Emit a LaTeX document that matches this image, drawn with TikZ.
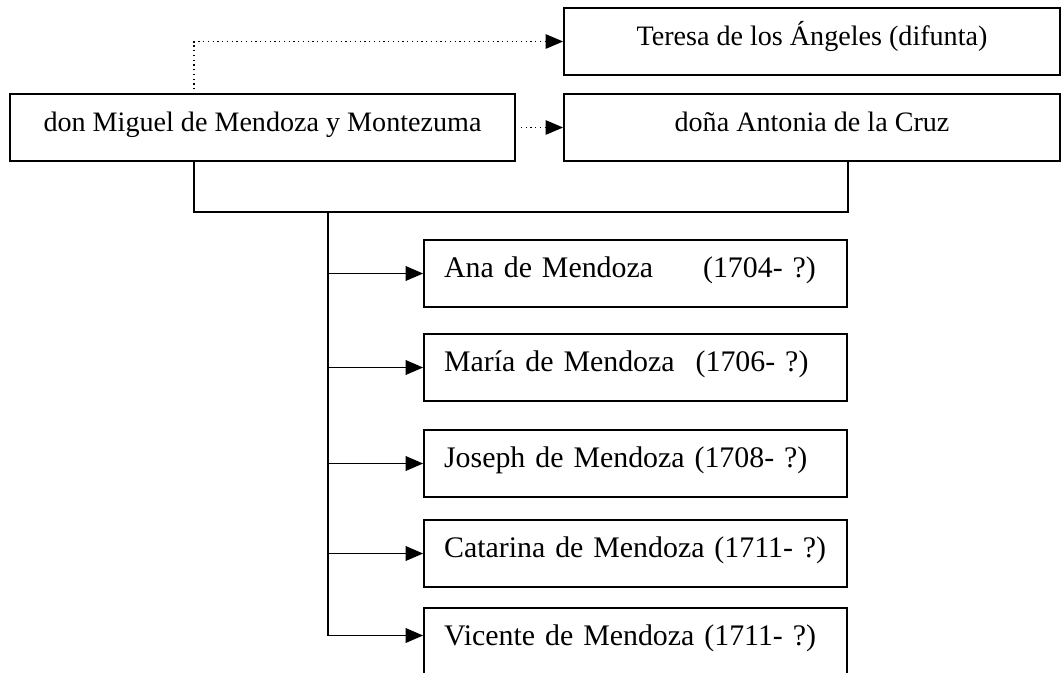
\documentclass[tikz,border=0pt]{standalone}
\usepackage{fontspec}
\setmainfont{Liberation Serif}
\usetikzlibrary{arrows.meta, positioning}

\begin{document}
\begin{tikzpicture}[x=0.02cm, y=-0.02cm,
        box/.style={draw, line width=1.1pt, minimum height=1.34cm, inner sep=0pt, text height=11pt, text depth=6pt, font=\fontsize{16}{19}\selectfont},
        kid/.style={box, anchor=east, text width=7.66cm, inner xsep=0.4cm, align=left, font=\fontsize{17}{20}\selectfont},
        link/.style={line width=1.1pt},
        wed/.style={line width=0.7pt, dotted},
        toarrow/.style={-{Triangle[length=3.5mm, width=2.9mm]}}]
        \useasboundingbox (0, 0) rectangle (1062, 673);
        \node [box, minimum width=10.1cm] (miguel) at (262.5, 127.5) {don Miguel de Mendoza y Montezuma};
        \node [box, minimum width=9.92cm] (teresa) at (812, 41.5) {Teresa de los Ángeles (difunta)};
        \node [box, minimum width=9.92cm] (antonia) at (812, 127.5) {doña Antonia de la Cruz};
        \node [kid] (ana) at (848, 273.5) {Ana de Mendoza\hspace{1cm}(1704- ?)};
        \node [kid] (maria) at (848, 367.5) {María de Mendoza\hspace{0.42cm}(1706- ?)};
        \node [kid] (joseph) at (848, 463.5) {Joseph de Mendoza (1708- ?)};
        \node [kid] (catarina) at (848, 553.5) {Catarina de Mendoza (1711- ?)};
        \node [kid] (vicente) at (848, 641.5) {Vicente de Mendoza (1711- ?)};
        \coordinate (up) at (194, 94);
        \coordinate (down) at (194, 161);
        \coordinate (rise) at (848, 162);
        \coordinate (trunk) at (328, 212);
        \path ([yshift=0.12cm]vicente.west) coordinate (vin);
        \coordinate (foot) at (trunk |- vin);
        \draw [wed, toarrow] (up) |- (teresa.west);
        \draw [wed, toarrow, shorten <=0.1cm] (miguel.east) -- (antonia.west);
        \draw [link] (down) |- (trunk) -| (rise);
        \draw [link] (trunk) -- (foot);
        \draw [link, toarrow] (trunk |- ana.west) -- (ana.west);
        \draw [link, toarrow] (trunk |- maria.west) -- (maria.west);
        \draw [link, toarrow] (trunk |- joseph.west) -- (joseph.west);
        \draw [link, toarrow] (trunk |- catarina.west) -- (catarina.west);
        \draw [link, toarrow] (foot) -- (vin);
    \end{tikzpicture}
\end{document}
